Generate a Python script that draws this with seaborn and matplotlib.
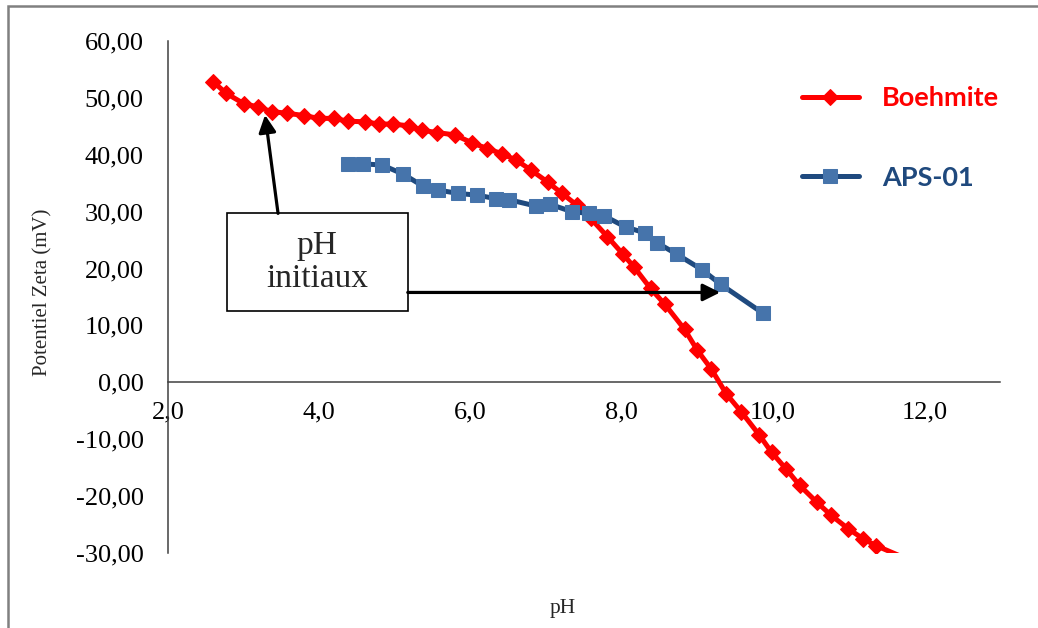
import matplotlib
matplotlib.use("Agg")
import matplotlib.pyplot as plt
from matplotlib.patches import Rectangle
import seaborn as sns
import pandas as pd

# ---- data ----
boehmite_ph = [2.60, 2.77, 3.00, 3.19, 3.37, 3.57, 3.80, 3.99, 4.19, 4.38, 4.60, 4.79,
               4.97, 5.18, 5.36, 5.56, 5.79, 6.02, 6.22, 6.41, 6.60, 6.80, 7.02, 7.21,
               7.41, 7.59, 7.81, 8.01, 8.16, 8.38, 8.57, 8.83, 9.00, 9.18, 9.38, 9.58,
               9.82, 9.98, 10.17, 10.35, 10.58, 10.77, 10.99, 11.19, 11.36, 11.85]
boehmite_zeta = [52.8, 50.8, 49.0, 48.4, 47.6, 47.3, 46.9, 46.4, 46.4, 45.9, 45.8, 45.4,
                 45.4, 45.1, 44.3, 43.9, 43.5, 42.1, 41.1, 40.2, 39.1, 37.3, 35.2, 33.2,
                 31.1, 28.8, 25.6, 22.6, 20.3, 16.5, 13.7, 9.3, 5.6, 2.4, -2.0, -5.2,
                 -9.3, -12.3, -15.2, -18.1, -21.1, -23.4, -25.7, -27.5, -28.7, -31.5]

aps_ph = [4.38, 4.58, 4.83, 5.11, 5.37, 5.57, 5.84, 6.09, 6.33, 6.51, 6.86, 7.05,
          7.34, 7.56, 7.76, 8.05, 8.30, 8.47, 8.73, 9.06, 9.31, 9.86]
aps_zeta = [38.4, 38.4, 38.2, 36.6, 34.5, 33.8, 33.2, 32.9, 32.3, 32.1, 31.0, 31.3,
            30.0, 29.7, 29.3, 27.3, 26.3, 24.5, 22.5, 19.8, 17.2, 12.2]

series_names = ["Boehmite", "APS-01"]
x_ticks = [2, 4, 6, 8, 10, 12]
x_tick_labels = ["2,0", "4,0", "6,0", "8,0", "10,0", "12,0"]
y_ticks = [-30, -20, -10, 0, 10, 20, 30, 40, 50, 60]
y_tick_labels = ["-30,00", "-20,00", "-10,00", "0,00", "10,00", "20,00",
                 "30,00", "40,00", "50,00", "60,00"]
annotation_text = "pH\ninitiaux"

# ---- style ----
sns.set_style("white")
plt.rcParams["font.family"] = ["Liberation Serif", "DejaVu Serif"]

W, H = 1038, 628
fig = plt.figure(figsize=(W / 100, H / 100), dpi=100)
ax = fig.add_axes([168 / W, 1 - 553 / H, (1000 - 168) / W, (553 - 41) / H])

df_b = pd.DataFrame({"pH": boehmite_ph, "zeta": boehmite_zeta})
df_a = pd.DataFrame({"pH": aps_ph, "zeta": aps_zeta})

sns.lineplot(data=df_b, x="pH", y="zeta", ax=ax, estimator=None, sort=False,
             color="#FF0000", linewidth=3.6, marker="D", markersize=8.5,
             markerfacecolor="#FF0000", markeredgecolor="#FF0000",
             label=series_names[0], zorder=3)
sns.lineplot(data=df_a, x="pH", y="zeta", ax=ax, estimator=None, sort=False,
             color="#1F4A7F", linewidth=3.6, marker="s", markersize=9.5,
             markerfacecolor="#4674AB", markeredgecolor="#4674AB",
             label=series_names[1], zorder=4)

ax.set_xlim(2, 13)
ax.set_ylim(-30, 60)
ax.set_xticks(x_ticks)
ax.set_xticklabels(x_tick_labels)
ax.set_yticks(y_ticks)
ax.set_yticklabels(y_tick_labels)
ax.set_xlabel("")
ax.set_ylabel("")

for s in ["top", "right"]:
    ax.spines[s].set_visible(False)
ax.spines["bottom"].set_position(("data", 0))
for s in ["bottom", "left"]:
    ax.spines[s].set_color("#404040")
    ax.spines[s].set_linewidth(1.1)
ax.tick_params(axis="both", direction="out", length=5.5, width=1.0,
               color="#404040", labelsize=19, labelcolor="black")
ax.tick_params(axis="y", pad=12)
ax.tick_params(axis="x", pad=8)

# annotation box and arrows
ax.add_patch(Rectangle((2.78, 12.5), 5.17 - 2.78, 29.7 - 12.5, facecolor="white",
                       edgecolor="black", linewidth=1.2, zorder=6))
ax.text(3.97, 21.1, annotation_text, ha="center", va="center", fontsize=24,
        linespacing=1.1, zorder=7)
arrow_kw = dict(arrowstyle="-|>", lw=2.3, color="black", mutation_scale=26,
                shrinkA=0, shrinkB=0)
ax.annotate("", xy=(3.283, 47.0), xytext=(3.455, 29.7), arrowprops=arrow_kw,
            zorder=8)
ax.annotate("", xy=(9.30, 15.8), xytext=(5.17, 15.8), arrowprops=arrow_kw,
            zorder=8)

# legend
leg = ax.legend(loc="upper left", bbox_to_anchor=(802 / W, 1 - 86 / H),
                bbox_transform=fig.transFigure, frameon=False, borderpad=0,
                borderaxespad=0, handlelength=2.1, handletextpad=0.85,
                labelspacing=2.05, prop={"family": "Lato", "weight": "bold",
                                         "size": 19.5})
leg.get_texts()[0].set_color("#FF0000")
leg.get_texts()[1].set_color("#1F497D")

# axis titles
fig.text(563 / W, 1 - 608 / H, "pH", ha="center", va="center", fontsize=15.5)
fig.text(43 / W, 1 - 292 / H, "Potentiel Zeta (mV)", ha="center", va="center",
         rotation=90, fontsize=15)

# outer frame
fig.patches.append(Rectangle((7.5 / W, -0.2), 1.2, 1.2 - 6 / H,
                             transform=fig.transFigure, fill=False,
                             edgecolor="#808080", linewidth=1.8, zorder=0))

fig.savefig("out.png", dpi=100)
